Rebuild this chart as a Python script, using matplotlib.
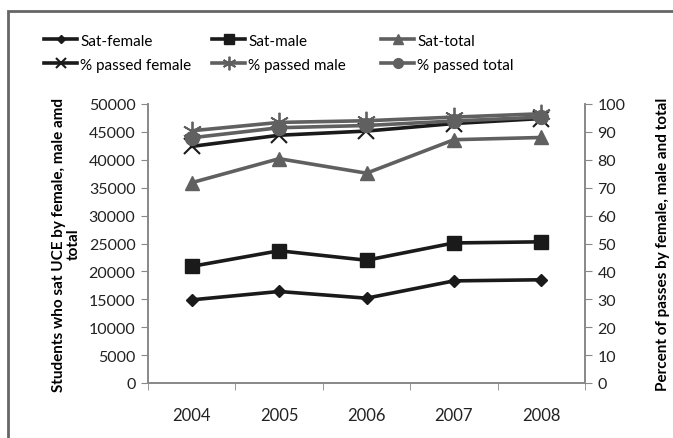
import numpy as np
import matplotlib.pyplot as plt
from matplotlib.patches import Rectangle

plt.rcParams['font.family'] = ['Lato', 'DejaVu Sans']

years = ['2004', '2005', '2006', '2007', '2008']
sat_female = [14900, 16400, 15200, 18300, 18500]
sat_male = [20900, 23700, 22000, 25100, 25300]
sat_total = [35900, 40200, 37600, 43600, 44000]
pass_female = [84.8, 88.8, 90.3, 93.0, 94.8]
pass_male = [90.4, 93.4, 94.0, 95.3, 96.5]
pass_total = [87.9, 91.5, 92.3, 93.9, 95.3]

dark = '#1a1a1a'
grey = '#606060'

fig = plt.figure(figsize=(6.73, 4.39), dpi=100)
ax = fig.add_axes([148 / 673, 1 - 384 / 439, 437 / 673, 279 / 439])
ax2 = ax.twinx()

x = np.arange(len(years))
lw = 2.6
ax.plot(x, sat_female, color=dark, lw=lw, marker='D', ms=6.5, label='Sat-female')
ax.plot(x, sat_male, color=dark, lw=lw, marker='s', ms=10, label='Sat-male')
ax.plot(x, sat_total, color=grey, lw=lw, marker='^', ms=10, label='Sat-total')
ax2.plot(x, pass_female, color=dark, lw=lw, marker='x', ms=11, mew=1.5, label='% passed female')
ax2.plot(x, pass_male, color=grey, lw=lw, marker=(6, 2, 0), ms=14, mew=1.3, label='% passed male')
ax2.plot(x, pass_total, color=grey, lw=lw, marker='o', ms=10, label='% passed total')

ax.set_xlim(-0.5, 4.5)
ax.set_ylim(0, 50000)
ax2.set_ylim(0, 100)
ax.set_yticks(range(0, 50001, 5000))
ax2.set_yticks(range(0, 101, 10))
ax.set_xticks(x)
ax.set_xticklabels(years)
ax.set_xticks(np.arange(-0.5, 4.6, 1), minor=True)
ax.tick_params(axis='x', which='major', length=0, pad=17, labelsize=12, colors='#222222')
ax.tick_params(axis='x', which='minor', length=5, direction='out', color='#888888')
ax.tick_params(axis='y', length=5, color='#888888', labelsize=11.5, labelcolor='#222222', pad=4)
ax2.tick_params(axis='y', length=5, color='#888888', labelsize=11.5, labelcolor='#222222', pad=4)

for a in (ax, ax2):
    a.spines['top'].set_visible(False)
    for s in ('left', 'right', 'bottom'):
        a.spines[s].set_color('#888888')
        a.spines[s].set_linewidth(1.2)

ax.set_ylabel('Students who sat UCE by female, male amd\ntotal', fontsize=11,
              fontweight='bold', linespacing=1.0, labelpad=6)
ax2.set_ylabel('Percent of passes by female, male and total', fontsize=11,
               fontweight='bold', labelpad=22)

h1, l1 = ax.get_legend_handles_labels()
h2, l2 = ax2.get_legend_handles_labels()
col_x = [30, 198, 367]
for i in range(3):
    leg = fig.legend([h1[i], h2[i]], [l1[i], l2[i]], loc='upper left',
                     bbox_to_anchor=(col_x[i] / 673, 1 - 21 / 439), frameon=False,
                     fontsize=11, handlelength=2.2, handletextpad=0.2,
                     labelspacing=0.65, markerscale=0.7)

fig.patches.append(Rectangle((8 / 673, -0.01), 1.05, 1 - 12 / 439 + 0.01,
                             transform=fig.transFigure, fill=False,
                             edgecolor='#666666', lw=2))

fig.savefig('out.png', dpi=100)
